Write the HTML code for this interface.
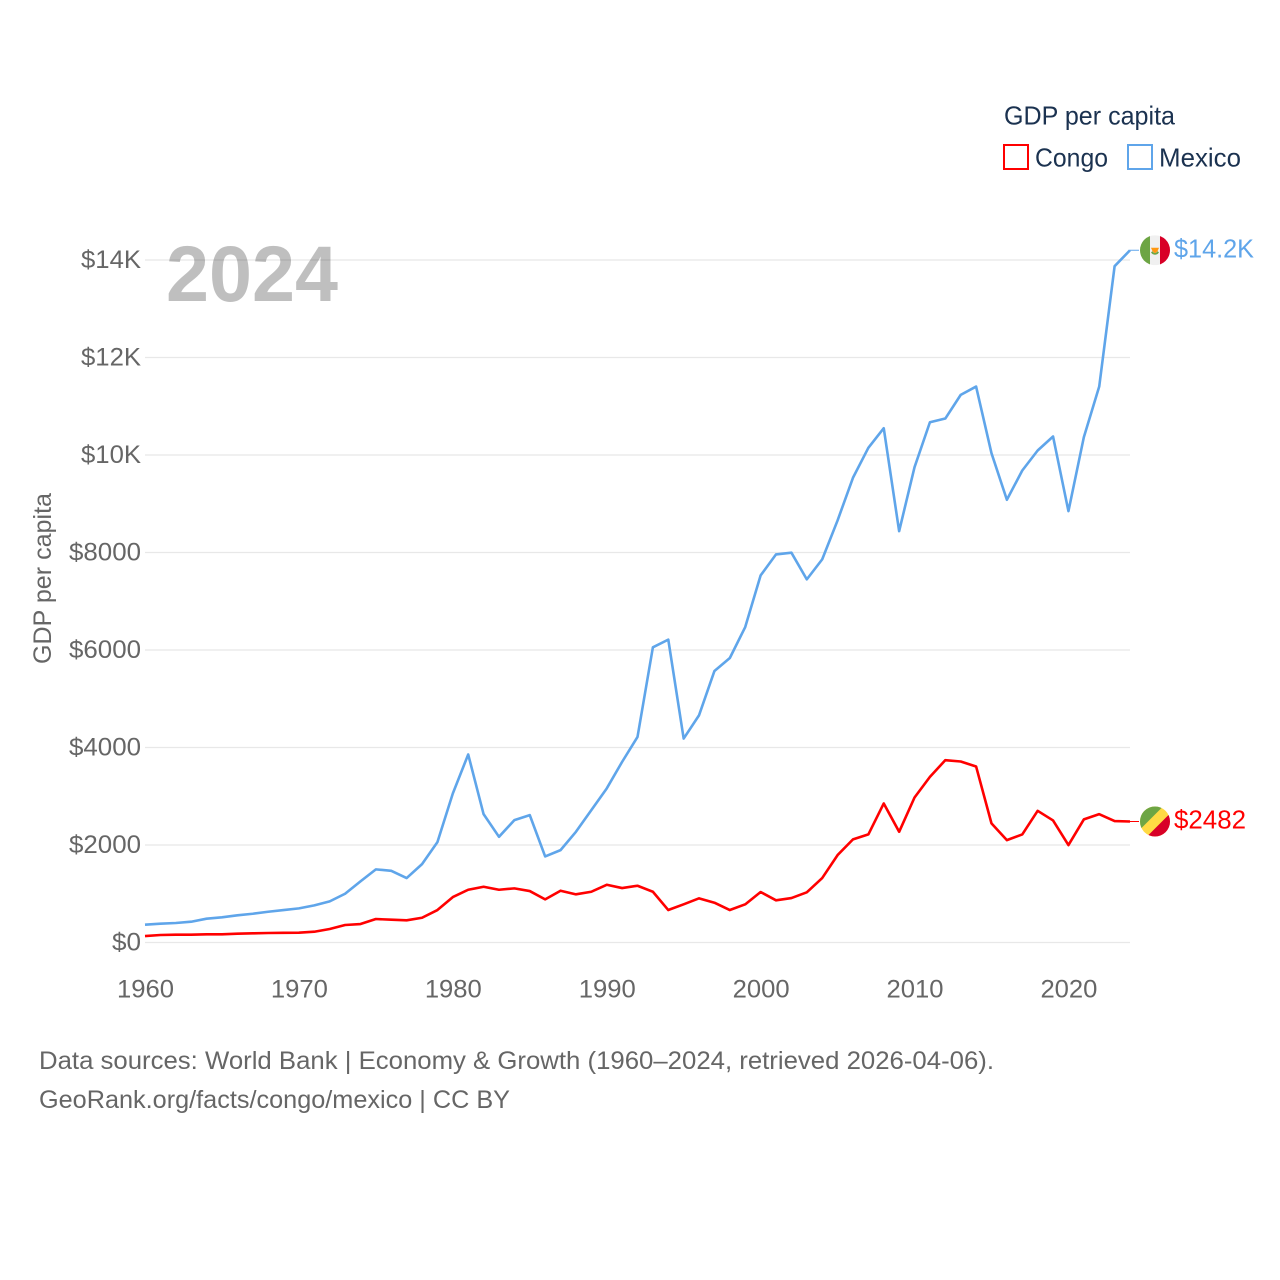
<!DOCTYPE html>
<html lang="en">
<head>
<meta charset="utf-8">
<title>GDP per capita: Congo and Mexico</title>
<style>
html,body{margin:0;padding:0;background:#fff;width:1280px;height:1280px;overflow:hidden}
svg{display:block}
text{font-family:"Liberation Sans",sans-serif}
</style>
</head>
<body>
<svg id="chart" width="1280" height="1280" viewBox="0 0 1280 1280" xmlns="http://www.w3.org/2000/svg">
  <defs>
    <clipPath id="flag-clip"><circle cx="0" cy="0" r="15"></circle></clipPath>
  </defs>
  <g id="grid"></g>
  <g id="y-ticks"></g>
  <g id="x-ticks"></g>
  <text x="0" y="0" transform="translate(51,664) rotate(-90)" font-size="25" fill="#666666" textLength="171" lengthAdjust="spacingAndGlyphs">GDP per capita</text>
  <text x="166" y="301" font-size="79" font-weight="700" fill="#000000" fill-opacity="0.25" textLength="172" lengthAdjust="spacingAndGlyphs">2024</text>
  <g id="series"></g>
  <g>
    <text x="1004" y="124.5" font-size="26" fill="#1b3250" textLength="171" lengthAdjust="spacingAndGlyphs">GDP per capita</text>
    <g>
      <rect x="1004" y="145" width="24" height="24" fill="none" stroke="#ff0000" stroke-width="2"></rect>
      <text x="1035" y="166.5" font-size="26" fill="#1b3250" textLength="73" lengthAdjust="spacingAndGlyphs">Congo</text>
    </g>
    <g>
      <rect x="1128" y="145" width="24" height="24" fill="none" stroke="#5fa5ea" stroke-width="2"></rect>
      <text x="1159" y="166.5" font-size="26" fill="#1b3250" textLength="82" lengthAdjust="spacingAndGlyphs">Mexico</text>
    </g>
  </g>
  <g>
    <text x="39" y="1069" font-size="25" fill="#666666" textLength="955" lengthAdjust="spacingAndGlyphs">Data sources: World Bank | Economy &amp; Growth (1960–2024, retrieved 2026-04-06).</text>
    <text x="39" y="1108" font-size="25" fill="#666666" textLength="471" lengthAdjust="spacingAndGlyphs">GeoRank.org/facts/congo/mexico | CC BY</text>
  </g>
</svg>
<script>
const years = [1960,1961,1962,1963,1964,1965,1966,1967,1968,1969,1970,1971,1972,1973,1974,1975,1976,1977,1978,1979,1980,1981,1982,1983,1984,1985,1986,1987,1988,1989,1990,1991,1992,1993,1994,1995,1996,1997,1998,1999,2000,2001,2002,2003,2004,2005,2006,2007,2008,2009,2010,2011,2012,2013,2014,2015,2016,2017,2018,2019,2020,2021,2022,2023,2024];
const mexicoValues = [365,385,400,426,488,516,557,590,631,666,700,762,844,1000,1254,1500,1471,1322,1608,2059,3057,3857,2633,2168,2510,2613,1766,1895,2271,2715,3160,3705,4217,6055,6213,4184,4662,5570,5836,6471,7530,7961,7996,7449,7859,8658,9533,10147,10549,8438,9750,10672,10748,11233,11404,10037,9082,9682,10092,10379,8848,10365,11404,13873,14200];
const congoValues = [133,154,160,160,168,168,180,188,195,199,201,221,277,359,379,482,467,455,508,666,932,1082,1143,1082,1110,1055,885,1062,988,1041,1184,1117,1164,1041,666,783,906,816,666,783,1035,865,912,1029,1322,1793,2115,2217,2852,2271,2975,3398,3740,3713,3611,2443,2100,2217,2701,2504,1998,2525,2633,2490,2482];
const yTickValues = [0,2000,4000,6000,8000,10000,12000,14000];
const yTickLabels = ["$0","$2000","$4000","$6000","$8000","$10K","$12K","$14K"];
const xTickValues = [1960,1970,1980,1990,2000,2010,2020];
const xTickLabels = ["1960","1970","1980","1990","2000","2010","2020"];

const SVG_NS = "http://www.w3.org/2000/svg";
const plotLeft = 145, plotRight = 1130, plotBottom = 942.5, plotTop = 260;
const xDomain = [1960, 2024], yDomain = [0, 14000];
function xScale(v){ return plotLeft + (v - xDomain[0]) / (xDomain[1] - xDomain[0]) * (plotRight - plotLeft); }
function yScale(v){ return plotBottom - (v - yDomain[0]) / (yDomain[1] - yDomain[0]) * (plotBottom - plotTop); }
function make(tag, attrs, text){
  const el = document.createElementNS(SVG_NS, tag);
  Object.keys(attrs).forEach(function(k){ el.setAttribute(k, attrs[k]); });
  if (text !== undefined) el.textContent = text;
  return el;
}
function approxWidth(label){ return label.length * (label.indexOf("K") >= 0 ? 13.33 : 14.4); }
function formatValue(v){ return v >= 10000 ? "$" + (v / 1000).toFixed(1) + "K" : "$" + Math.round(v); }

const gridG = document.getElementById("grid");
const yG = document.getElementById("y-ticks");
yTickValues.forEach(function(v, i){
  const line = make("line", {x1: plotLeft, x2: plotRight, y1: yScale(v), y2: yScale(v), stroke: "#e8e8e8", "stroke-width": 1.3});
  
  
  gridG.appendChild(line);
  const w = yTickLabels[i].length === 2 ? 29 : (yTickLabels[i].length === 4 ? 60 : 72);
  const t = make("text", {x: 141, y: yScale(v) + 7.8, "text-anchor": "end", "font-size": 25, fill: "#666666", textLength: w, lengthAdjust: "spacingAndGlyphs"}, yTickLabels[i]);
  
  
  yG.appendChild(t);
});

const xG = document.getElementById("x-ticks");
xTickValues.forEach(function(v, i){
  const t = make("text", {x: xScale(v) + 0.5, y: 997.5, "text-anchor": "middle", "font-size": 25, fill: "#666666", textLength: 57, lengthAdjust: "spacingAndGlyphs"}, xTickLabels[i]);
  
  
  xG.appendChild(t);
});

function linePoints(values){
  return values.map(function(v, i){ return xScale(years[i]).toFixed(2) + "," + yScale(v).toFixed(2); }).join(" ");
}
const seriesG = document.getElementById("series");

const mexicoLine = make("polyline", {points: linePoints(mexicoValues), fill: "none", stroke: "#5fa5ea", "stroke-width": 2.6, "stroke-linejoin": "round"});


seriesG.appendChild(mexicoLine);

const congoLine = make("polyline", {points: linePoints(congoValues), fill: "none", stroke: "#ff0000", "stroke-width": 2.6, "stroke-linejoin": "round"});


seriesG.appendChild(congoLine);

const flagX = 1155;
const labelX = 1174;

function endLabel(values, color){
  const last = values[values.length - 1];
  const y = yScale(last);
  const conn = make("line", {x1: plotRight, x2: 1139, y1: y, y2: y, stroke: color, "stroke-width": 1});
  seriesG.appendChild(conn);
  const label = formatValue(last);
  const t = make("text", {x: labelX, y: y + 7, "font-size": 26, fill: color, textLength: approxWidth(label), lengthAdjust: "spacingAndGlyphs"}, label);
  seriesG.appendChild(t);
  return {conn: conn, text: t, y: y};
}

const mexicoEnd = endLabel(mexicoValues, "#5fa5ea");





const congoEnd = endLabel(congoValues, "#ff0000");





const mexicoFlag = make("g", {transform: "translate(" + flagX + "," + mexicoEnd.y + ")", "clip-path": "url(#flag-clip)"});


mexicoFlag.appendChild(make("rect", {x: -15, y: -15, width: 30, height: 30, fill: "#f0f0f0"}));
mexicoFlag.appendChild(make("rect", {x: -15, y: -15, width: 10, height: 30, fill: "#6da544"}));
mexicoFlag.appendChild(make("rect", {x: 5, y: -15, width: 10, height: 30, fill: "#d80027"}));
mexicoFlag.appendChild(make("path", {d: "M-4,2 A4.5,4.5 0 0 0 4,2 L2.5,1 A2.8,2.8 0 0 1 -2.5,1 Z", fill: "#6da544"}));
mexicoFlag.appendChild(make("path", {d: "M-4,-2.5 L4,-2.5 L2.5,1 L0,3 L-2.5,1 Z", fill: "#ff9811"}));
seriesG.appendChild(mexicoFlag);

const congoFlag = make("g", {transform: "translate(" + flagX + "," + congoEnd.y + ")", "clip-path": "url(#flag-clip)"});


congoFlag.appendChild(make("rect", {x: -15, y: -15, width: 30, height: 30, fill: "#ffda44"}));
congoFlag.appendChild(make("path", {d: "M-15,-15 L8,-15 L-15,8 Z", fill: "#6da544"}));
congoFlag.appendChild(make("path", {d: "M15,-8 L15,15 L-8,15 Z", fill: "#d80027"}));
seriesG.appendChild(congoFlag);
</script>
</body>
</html>
